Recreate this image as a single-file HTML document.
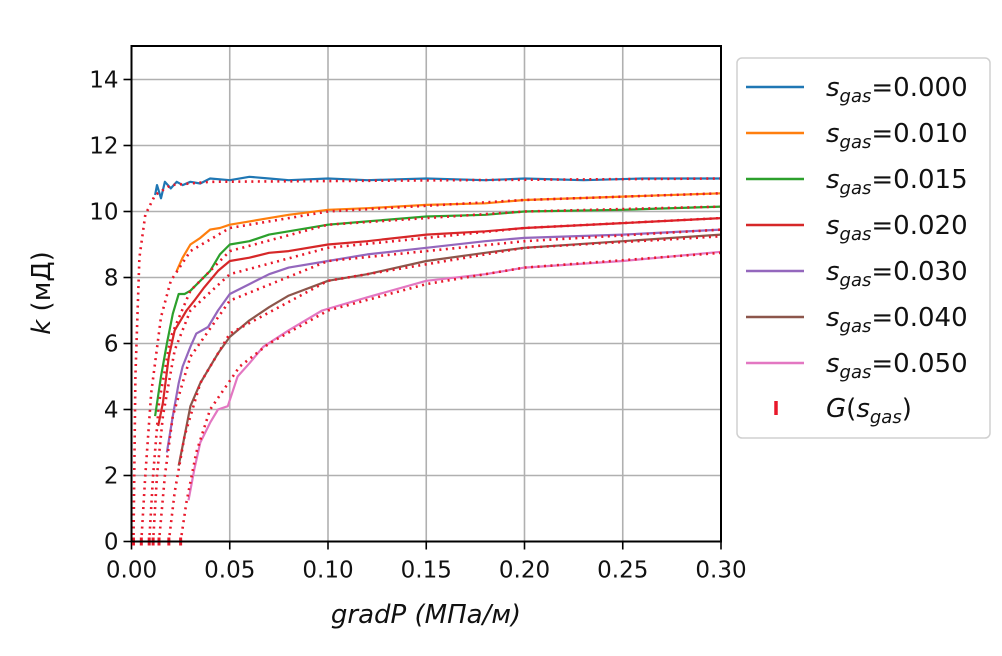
<!DOCTYPE html>
<html><head><meta charset="utf-8"><style>
body{margin:0;background:#fff;}
svg{display:block;font-family:"DejaVu Sans","Liberation Sans",sans-serif;}
</style></head><body>
<svg id="chart" width="1002" height="656" viewBox="0 0 1002 656"></svg>
<script>
const xTicks=[0,0.05,0.10,0.15,0.20,0.25,0.30];
const xTickLabels=["0.00","0.05","0.10","0.15","0.20","0.25","0.30"];
const yTicks=[0,2,4,6,8,10,12,14];
const seriesNames=["0.000","0.010","0.015","0.020","0.030","0.040","0.050"];
const seriesColors=["#1f77b4","#ff7f0e","#2ca02c","#d62728","#9467bd","#8c564b","#e377c2"];
const gValues=[0.001,0.005,0.009,0.011,0.014,0.019,0.025];
const data0=[[0.012,10.5],[0.013,10.8],[0.015,10.4],[0.017,10.9],[0.02,10.7],[0.023,10.9],[0.026,10.8],[0.03,10.9],[0.035,10.85],[0.04,11.0],[0.05,10.95],[0.06,11.05],[0.07,11.0],[0.08,10.95],[0.1,11.0],[0.12,10.95],[0.15,11.0],[0.18,10.95],[0.2,11.0],[0.23,10.95],[0.26,11.0],[0.3,11.0]];
const data1=[[0.023,8.2],[0.026,8.6],[0.03,9.0],[0.035,9.2],[0.04,9.45],[0.045,9.5],[0.05,9.6],[0.06,9.7],[0.07,9.8],[0.08,9.9],[0.1,10.05],[0.12,10.1],[0.15,10.2],[0.18,10.25],[0.2,10.35],[0.25,10.45],[0.3,10.55]];
const data2=[[0.012,3.8],[0.015,5.0],[0.018,6.0],[0.021,6.9],[0.024,7.5],[0.027,7.5],[0.03,7.6],[0.035,7.9],[0.04,8.2],[0.045,8.7],[0.05,9.0],[0.06,9.1],[0.07,9.3],[0.08,9.4],[0.1,9.6],[0.12,9.7],[0.15,9.85],[0.18,9.9],[0.2,10.0],[0.25,10.05],[0.3,10.15]];
const data3=[[0.0136,3.5],[0.016,4.2],[0.019,5.6],[0.022,6.4],[0.025,6.7],[0.028,7.0],[0.032,7.3],[0.037,7.7],[0.044,8.2],[0.05,8.5],[0.06,8.6],[0.07,8.75],[0.08,8.8],[0.1,9.0],[0.12,9.1],[0.15,9.3],[0.18,9.4],[0.2,9.5],[0.25,9.65],[0.3,9.8]];
const data4=[[0.018,2.7],[0.021,3.8],[0.024,4.8],[0.026,5.3],[0.03,5.9],[0.033,6.3],[0.039,6.5],[0.044,7.0],[0.05,7.5],[0.06,7.8],[0.07,8.1],[0.08,8.3],[0.1,8.5],[0.12,8.7],[0.15,8.9],[0.18,9.1],[0.2,9.2],[0.25,9.3],[0.3,9.45]];
const data5=[[0.024,2.3],[0.027,3.2],[0.03,4.1],[0.035,4.8],[0.04,5.3],[0.044,5.7],[0.05,6.2],[0.06,6.7],[0.07,7.1],[0.08,7.45],[0.1,7.9],[0.12,8.1],[0.15,8.5],[0.18,8.75],[0.2,8.9],[0.25,9.1],[0.3,9.3]];
const data6=[[0.029,1.25],[0.032,2.2],[0.035,3.0],[0.04,3.6],[0.044,4.0],[0.049,4.1],[0.054,5.0],[0.06,5.4],[0.067,5.9],[0.08,6.4],[0.097,7.0],[0.12,7.4],[0.15,7.9],[0.18,8.1],[0.2,8.3],[0.25,8.5],[0.3,8.78]];
const fit0=[[0.001,0],[0.002,5],[0.004,8.6],[0.007,9.9],[0.012,10.5],[0.02,10.8],[0.04,10.9],[0.3,11.0]];
const fit1=[[0.005,0],[0.007,2],[0.01,4.5],[0.015,6.8],[0.02,7.9],[0.03,8.8],[0.05,9.5],[0.1,10.0],[0.2,10.35],[0.3,10.55]];
const fit2=[[0.009,0],[0.011,2],[0.014,4.2],[0.02,6.2],[0.03,7.6],[0.05,8.8],[0.1,9.6],[0.2,10.0],[0.3,10.15]];
const fit3=[[0.011,0],[0.013,2],[0.016,3.8],[0.022,5.8],[0.03,7.0],[0.05,8.1],[0.1,8.9],[0.2,9.5],[0.3,9.8]];
const fit4=[[0.014,0],[0.017,2],[0.021,3.8],[0.03,5.6],[0.05,7.3],[0.1,8.5],[0.2,9.1],[0.3,9.45]];
const fit5=[[0.019,0],[0.022,1.5],[0.027,3.2],[0.035,4.8],[0.05,6.3],[0.1,7.9],[0.2,8.9],[0.3,9.25]];
const fit6=[[0.025,0],[0.028,1.2],[0.033,2.7],[0.04,4.0],[0.055,5.3],[0.07,6.0],[0.1,7.0],[0.15,7.8],[0.2,8.3],[0.3,8.75]];
const dataSeries=[data0,data1,data2,data3,data4,data5,data6];
const fitSeries=[fit0,fit1,fit2,fit3,fit4,fit5,fit6];

const NS="http://www.w3.org/2000/svg";
const svg=document.getElementById('chart');
const L=131.5,R=721,T=46,B=541.5;
const xs=v=>L+(v/0.3)*(R-L);
const ys=v=>B-(v/15)*(B-T-0.5);
function mk(tag,attrs,parent){const e=document.createElementNS(NS,tag);for(const k in attrs)e.setAttribute(k,attrs[k]);(parent||svg).appendChild(e);return e;}

const grid=mk('g',{});


xTicks.forEach((t,i)=>{
  const l=mk('line',{x1:xs(t),x2:xs(t),y1:T,y2:B,stroke:'#b0b0b0','stroke-width':1.6},grid);
  
  
  const tk=mk('line',{x1:xs(t),x2:xs(t),y1:B,y2:B+8,stroke:'#000','stroke-width':1.6});
  
  
  const tx=mk('text',{x:xs(t),y:B+36,'text-anchor':'middle','font-size':23,fill:'#111'});
  tx.textContent=xTickLabels[i];
  
  
});
yTicks.forEach(t=>{
  const l=mk('line',{x1:L,x2:R,y1:ys(t),y2:ys(t),stroke:'#b0b0b0','stroke-width':1.6},grid);
  
  
  const tk=mk('line',{x1:L-8,x2:L,y1:ys(t),y2:ys(t),stroke:'#000','stroke-width':1.6});
  
  
  const tx=mk('text',{x:L-13,y:ys(t)+8,'text-anchor':'end','font-size':23,fill:'#111'});
  tx.textContent=String(t);
  
  
});

function pathD(pts){return pts.map((p,i)=>(i?'L':'M')+xs(p[0]).toFixed(1)+','+ys(p[1]).toFixed(1)).join('');}
dataSeries.forEach((s,i)=>{
  const p=mk('path',{d:pathD(s),fill:'none',stroke:seriesColors[i],'stroke-width':2.2,'stroke-linejoin':'round'});
  
  
});
fitSeries.forEach((s,i)=>{
  const p=mk('path',{d:pathD(s),fill:'none',stroke:'#e8182a','stroke-width':2.6,'stroke-dasharray':'2 4.5'});
  
  
});
gValues.forEach(g=>{
  const m=mk('line',{x1:xs(g),x2:xs(g),y1:ys(0)-4,y2:ys(0)+4,stroke:'#e8182a','stroke-width':3});
  
  
});

const frame=mk('rect',{x:L,y:T,width:R-L,height:B-T,fill:'none',stroke:'#000','stroke-width':2});



const yl=mk('text',{x:0,y:0,transform:'translate(50,293) rotate(-90)','text-anchor':'middle','font-size':26,fill:'#111'});
yl.innerHTML='<tspan font-style="italic">k</tspan> (мД)';


const xl=mk('text',{x:426,y:623,'text-anchor':'middle','font-size':26,'font-style':'italic',fill:'#111'});
xl.textContent='gradP (МПа/м)';



const lg=mk('g',{});


mk('rect',{x:737,y:58,width:253,height:380,rx:5,fill:'#fff',stroke:'#d0d0d0','stroke-width':1.5},lg);
seriesNames.forEach((n,i)=>{
  const y=87+i*46;
  const ln=mk('line',{x1:746,x2:804,y1:y,y2:y,stroke:seriesColors[i],'stroke-width':2.5},lg);
  
  
  const t=mk('text',{x:826,y:y+9,'font-size':26,fill:'#111'},lg);
  t.innerHTML='<tspan font-style="italic">s</tspan><tspan font-style="italic" font-size="18" dy="6">gas</tspan><tspan dy="-6">=0.'+n.slice(2)+'</tspan>';
  
  
});
const gm=mk('line',{x1:776,x2:776,y1:401,y2:415,stroke:'#e8182a','stroke-width':3.5},lg);


const gt=mk('text',{x:826,y:417,'font-size':26,fill:'#111'},lg);
gt.innerHTML='<tspan font-style="italic">G</tspan>(<tspan font-style="italic">s</tspan><tspan font-style="italic" font-size="18" dy="6">gas</tspan><tspan dy="-6">)</tspan>';


</script>
</body></html>
